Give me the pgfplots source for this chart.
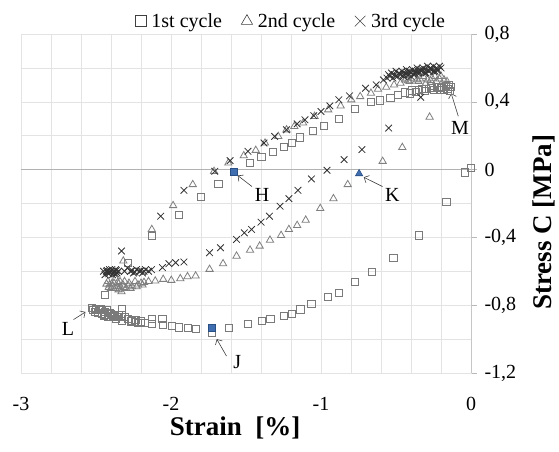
\documentclass[border=0pt]{standalone}
\usepackage{fontspec}
\setmainfont{Liberation Serif}
\usepackage{pgfplots}
\pgfplotsset{compat=1.18}
\usetikzlibrary{arrows.meta}
\definecolor{sqc}{HTML}{7A7A7A}
\definecolor{trc}{HTML}{7F7F7F}
\definecolor{xc}{HTML}{333333}
\definecolor{bluefill}{HTML}{3F6FB0}
\definecolor{blueedge}{HTML}{2A4F85}
\begin{document}
\begin{tikzpicture}
\useasboundingbox (-21pt,-78pt) rectangle (538pt,373pt);
\begin{axis}[
  scale only axis, width=450pt, height=339pt,
  xmin=-3, xmax=0, ymin=-1.2, ymax=0.8,
  xtick={-3,-2,-1,0}, minor x tick num=4,
  ytick={-1.2,-0.8,-0.4,0,0.4,0.8}, minor y tick num=1,
  grid=both,
  major grid style={gray!22, line width=0.6pt},
  minor grid style={gray!22, line width=0.6pt},
  axis line style={gray!22, line width=0.6pt},
  ytick pos=right, yticklabel pos=right,
  xtick pos=bottom,
  tick align=outside,
  major tick length=6pt, minor tick length=0pt,
  xtick style={draw=none},
  ytick style={gray!55, line width=0.6pt},
  tick label style={font=\fontsize{20}{20}\selectfont},
  /pgf/number format/assume math mode=true,
  /pgf/number format/use comma,
  /pgf/number format/fixed,
  /pgf/number format/precision=1,
  xticklabel style={yshift=-15pt},
  yticklabel style={xshift=4pt},
  every axis x label/.style={at={(rel axis cs:0.476,-0.162)}, anchor=center},
  every axis y label/.style={at={(rel axis cs:1.162,0.445)}, anchor=center, rotate=90},
  xlabel={\fontsize{27}{27}\selectfont\bfseries Strain\ \ [\%]},
  ylabel={\fontsize{27}{27}\selectfont\bfseries Stress C [MPa]},
  legend style={draw=none, fill=none, at={(0.596,1.038)}, anchor=center,
    font=\fontsize{20}{20}\selectfont,
    /tikz/every even column/.append style={column sep=14pt}},
  legend columns=3,
  legend image code/.code={\path[draw=none, fill=none] (-3pt,0pt) rectangle (15pt,0.1pt); \draw[#1] plot coordinates {(6pt,0pt)};},
  clip=false,
]
\addlegendimage{only marks, mark=square, mark size=5.5pt, color=black!75, mark options={line width=0.6pt}}
\addlegendimage{only marks, mark=triangle, mark size=6.5pt, color=black!75, mark options={line width=0.6pt}}
\addlegendimage{only marks, mark=x, mark size=7.5pt, color=black!75, mark options={line width=0.6pt}}
\legend{1st cycle, 2nd cycle, 3rd cycle}
% 1st cycle
\addplot[forget plot, only marks, mark=square, mark size=3.6pt, color=sqc, mark options={line width=0.8pt, fill=none}] coordinates {
(-0.003,0.01) (-0.04,-0.016) (-0.164,-0.19) (-0.347,-0.388) (-0.518,-0.52) (-0.663,-0.604)
(-0.772,-0.663) (-0.88,-0.729) (-0.953,-0.749) (-1.064,-0.794) (-1.138,-0.825) (-1.192,-0.849)
(-1.249,-0.863) (-1.337,-0.882) (-1.392,-0.892) (-1.487,-0.912) (-1.615,-0.935) (-1.727,-0.96)
(-1.836,-0.94) (-1.89,-0.935) (-1.945,-0.931) (-1.995,-0.923) (-2.055,-0.914) (-2.128,-0.908)
(-2.128,-0.882) (-2.057,-0.882) (-2.176,-0.904) (-2.20,-0.895) (-2.22,-0.905) (-2.235,-0.885)
(-2.24,-0.9) (-2.26,-0.89) (-2.27,-0.895) (-2.29,-0.88) (-2.31,-0.87) (-2.33,-0.892)
(-2.33,-0.86) (-2.33,-0.825) (-2.36,-0.87) (-2.37,-0.88) (-2.38,-0.86) (-2.40,-0.85)
(-2.40,-0.87) (-2.42,-0.87) (-2.43,-0.83) (-2.44,-0.84) (-2.45,-0.86) (-2.46,-0.85)
(-2.47,-0.82) (-2.48,-0.83) (-2.50,-0.82) (-2.51,-0.84) (-2.52,-0.83) (-2.53,-0.815)
(-2.49,-0.845) (-2.46,-0.83) (-2.41,-0.845) (-2.35,-0.855) (-2.44,-0.855) (-2.39,-0.865)
(-2.442,-0.741) (-2.29,-0.55) (-2.128,-0.392) (-1.945,-0.265) (-1.803,-0.161) (-1.684,-0.082)
(-1.473,0.039) (-1.397,0.075) (-1.323,0.106) (-1.249,0.133) (-1.195,0.157) (-1.14,0.19)
(-1.055,0.227) (-0.979,0.259) (-0.879,0.3) (-0.772,0.359) (-0.667,0.398) (-0.608,0.408)
(-0.537,0.425) (-0.489,0.441) (-0.442,0.455) (-0.394,0.467) (-0.347,0.47) (-0.299,0.475)
(-0.264,0.48) (-0.228,0.486) (-0.192,0.49) (-0.169,0.494) (-0.145,0.5) (-0.133,0.486)
(-0.157,0.475) (-0.18,0.47) (-0.21,0.468) (-0.25,0.47) (-0.31,0.462) (-0.37,0.458)
(-0.41,0.45) (-0.14,0.465) (-0.2,0.48) (-0.27,0.492) (-0.33,0.478)
};
% 2nd cycle
\addplot[forget plot, only marks, mark=triangle, mark size=4.2pt, color=trc, mark options={line width=0.8pt, fill=none}] coordinates {
(-0.276,0.31) (-0.458,0.131) (-0.589,0.049) (-0.822,-0.088) (-0.917,-0.171) (-1.005,-0.229)
(-1.102,-0.298) (-1.159,-0.329) (-1.214,-0.353) (-1.266,-0.388) (-1.34,-0.416) (-1.409,-0.451)
(-1.473,-0.475) (-1.563,-0.51) (-1.653,-0.555) (-1.743,-0.588) (-1.836,-0.627) (-1.89,-0.631)
(-1.938,-0.643) (-1.998,-0.653) (-2.052,-0.647) (-2.105,-0.657) (-2.15,-0.66) (-2.18,-0.665)
(-2.19,-0.68) (-2.2,-0.67) (-2.22,-0.68) (-2.23,-0.69) (-2.24,-0.66) (-2.26,-0.69)
(-2.27,-0.70) (-2.28,-0.67) (-2.3,-0.7) (-2.31,-0.66) (-2.32,-0.68) (-2.33,-0.72)
(-2.34,-0.66) (-2.35,-0.71) (-2.36,-0.69) (-2.37,-0.64) (-2.38,-0.67) (-2.39,-0.69)
(-2.4,-0.7) (-2.41,-0.68) (-2.42,-0.66) (-2.43,-0.675) (-2.37,-0.7) (-2.34,-0.69)
(-2.395,-0.675) (-2.355,-0.665) (-2.315,-0.695) (-2.285,-0.685) (-2.415,-0.695) (-2.345,-0.705)
(-2.318,-0.539) (-2.128,-0.353) (-1.986,-0.212) (-1.855,-0.088) (-1.713,-0.01) (-1.618,0.039)
(-1.515,0.082) (-1.435,0.114) (-1.373,0.157) (-1.285,0.196) (-1.23,0.235) (-1.178,0.255)
(-1.119,0.275) (-1.043,0.314) (-0.952,0.353) (-0.869,0.376) (-0.798,0.412) (-0.739,0.431)
(-0.667,0.451) (-0.62,0.475) (-0.565,0.486) (-0.513,0.5) (-0.47,0.51) (-0.44,0.53)
(-0.43,0.54) (-0.41,0.52) (-0.38,0.54) (-0.36,0.53) (-0.35,0.52) (-0.32,0.55)
(-0.3,0.51) (-0.29,0.53) (-0.26,0.54) (-0.24,0.55) (-0.23,0.52) (-0.2,0.55)
(-0.18,0.53) (-0.16,0.52) (-0.42,0.525) (-0.34,0.535) (-0.27,0.525) (-0.21,0.535)
};
% 3rd cycle
\addplot[forget plot, only marks, mark=x, mark size=4.7pt, color=xc, mark options={line width=0.8pt}] coordinates {
(-0.56,0.54) (-0.55,0.56) (-0.54,0.55) (-0.53,0.57) (-0.52,0.54) (-0.51,0.56) (-0.50,0.58)
(-0.50,0.55) (-0.49,0.55) (-0.48,0.57) (-0.47,0.56) (-0.46,0.58) (-0.45,0.55) (-0.45,0.56)
(-0.44,0.57) (-0.43,0.59) (-0.42,0.56) (-0.41,0.58) (-0.40,0.57) (-0.40,0.55) (-0.39,0.59)
(-0.38,0.56) (-0.37,0.58) (-0.36,0.60) (-0.35,0.57) (-0.35,0.58) (-0.34,0.59) (-0.33,0.58)
(-0.32,0.60) (-0.31,0.57) (-0.30,0.59) (-0.30,0.57) (-0.29,0.61) (-0.28,0.58) (-0.27,0.60)
(-0.26,0.59) (-0.25,0.61) (-0.25,0.58) (-0.24,0.58) (-0.23,0.60) (-0.22,0.59) (-0.21,0.61)
(-0.20,0.60) (-0.225,0.585) (-0.275,0.595) (-0.325,0.59) (-0.375,0.57) (-0.425,0.575)
(-0.335,0.427) (-0.549,0.245) (-0.727,0.118) (-0.846,0.059) (-0.96,-0.004) (-1.064,-0.055)
(-1.154,-0.122) (-1.214,-0.171) (-1.273,-0.216) (-1.344,-0.275) (-1.40,-0.31) (-1.463,-0.353)
(-1.511,-0.373) (-1.563,-0.412) (-1.67,-0.461) (-1.743,-0.49) (-1.914,-0.545) (-1.969,-0.549)
(-2.014,-0.555) (-2.057,-0.578) (-2.13,-0.59) (-2.15,-0.6) (-2.17,-0.59) (-2.19,-0.61)
(-2.21,-0.6) (-2.23,-0.59) (-2.25,-0.61) (-2.27,-0.6) (-2.29,-0.58) (-2.31,-0.6)
(-2.35,-0.6) (-2.36,-0.61) (-2.37,-0.59) (-2.38,-0.6) (-2.39,-0.62) (-2.40,-0.6)
(-2.41,-0.59) (-2.42,-0.61) (-2.43,-0.6) (-2.44,-0.62) (-2.45,-0.6) (-2.37,-0.615)
(-2.365,-0.595) (-2.385,-0.61) (-2.405,-0.605) (-2.425,-0.595) (-2.415,-0.615) (-2.395,-0.59)
(-2.18,-0.6) (-2.2,-0.595) (-2.24,-0.605) (-2.26,-0.595)
(-2.33,-0.48) (-2.069,-0.275) (-1.914,-0.122) (-1.708,-0.01) (-1.606,0.053) (-1.487,0.108)
(-1.38,0.157) (-1.309,0.196) (-1.23,0.235) (-1.159,0.27) (-1.107,0.294) (-1.048,0.318)
(-1.0,0.343) (-0.941,0.376) (-0.881,0.412) (-0.81,0.435) (-0.703,0.48) (-0.632,0.5)
(-0.584,0.529)
};
% highlighted points
\addplot[forget plot, only marks, mark=square*, mark size=3.6pt, mark options={fill=bluefill, draw=blueedge, line width=0.6pt}] coordinates {(-1.582,-0.014) (-1.727,-0.935)};
\addplot[forget plot, only marks, mark=triangle*, mark size=4.2pt, mark options={fill=bluefill, draw=blueedge, line width=0.6pt}] coordinates {(-0.746,-0.024)};
% axis lines
\draw[gray!60, line width=0.7pt] (axis cs:-3,0) -- (axis cs:0,0);
\draw[gray!45, line width=0.7pt] (axis cs:0,-1.2) -- (axis cs:0,0.8);
% annotations
\begin{scope}[every node/.style={font=\fontsize{20}{20}\selectfont}]
\node at (axis cs:-1.392,-0.150) {H};
\node at (axis cs:-0.525,-0.150) {K};
\node at (axis cs:-0.074,0.245) {M};
\node at (axis cs:-2.686,-0.941) {L};
\node at (axis cs:-1.558,-1.137) {J};
\end{scope}
\begin{scope}[black!75, line width=0.6pt, -{Straight Barb[length=4pt]}]
\draw (axis cs:-1.46,-0.10) -- (axis cs:-1.555,-0.035);
\draw (axis cs:-0.59,-0.10) -- (axis cs:-0.715,-0.045);
\draw (axis cs:-0.085,0.315) -- (axis cs:-0.132,0.45);
\draw (axis cs:-2.65,-0.885) -- (axis cs:-2.57,-0.84);
\draw (axis cs:-1.63,-1.10) -- (axis cs:-1.695,-1.00);
\end{scope}
\end{axis}
\end{tikzpicture}
\end{document}
